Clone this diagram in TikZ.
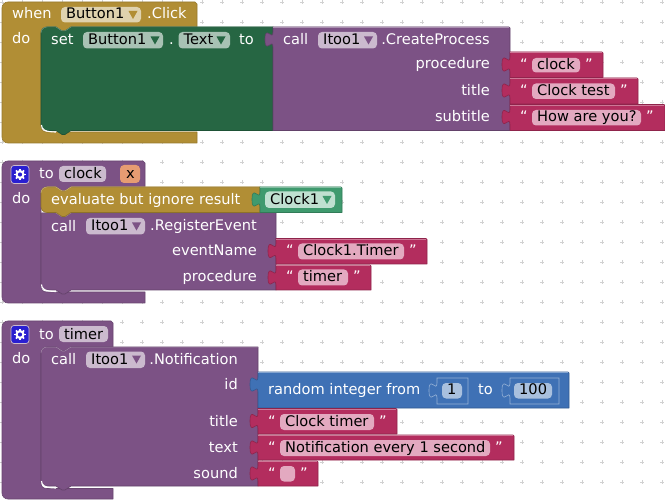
\documentclass[tikz,border=0pt]{standalone}
\usepackage{fontspec}
\setmainfont{DejaVu Sans}
\definecolor{gold}{HTML}{B18E35}
\definecolor{dgreen}{HTML}{266643}
\definecolor{purp}{HTML}{7C5285}
\definecolor{pinkb}{HTML}{B32D5E}
\definecolor{blueb}{HTML}{3F71B5}
\definecolor{mint}{HTML}{3F9A6E}
\definecolor{fgold}{HTML}{DFD2AE}
\definecolor{fgreen}{HTML}{A8C2B4}
\definecolor{fpurp}{HTML}{CBBACE}
\definecolor{fpink}{HTML}{E3A9C0}
\definecolor{fblue}{HTML}{A9C0DE}
\definecolor{fmint}{HTML}{BFE0D0}
\definecolor{fx}{HTML}{E69C72}
\definecolor{gearb}{HTML}{2A1FD0}
\newcounter{nn}
\newcommand{\fsz}{\fontsize{14.6}{16}\selectfont}
\tikzset{
  lbl/.style={text=white,inner sep=0pt,font=\fsz},
  fieldtxt/.style={text=black,inner sep=0pt,font=\fsz},
  blk/.style={line width=0.6pt,line join=round},
}
% left tab of a value block, drawn upward from (x,y+20) to (x,y+5)
\newcommand{\tabup}[2]{(#1,#2+20) .. controls (#1,#2+10) and (#1-8,#2+28) .. (#1-8,#2+12.5) .. controls (#1-8,#2-3) and (#1,#2+15) .. (#1,#2+5)}
% \valb{colour}{x1}{y1}{x2}{y2}
\newcommand{\valb}[5]{%
  \draw[blk,fill=#1,draw=#1!80!black] (#2,#3) -- (#4-1,#3) -- (#4,#3+1) -- (#4,#5) -- (#2,#5) -- \tabup{#2}{#3} -- cycle;
  \draw[line width=0.5pt,#1!65!white] (#2,#3+0.3) -- (#4-1,#3+0.3);}
% statement block: \stmt{colour}{x1}{y1}{x2}{y2}{top radius}
\newcommand{\stmt}[6]{%
  \draw[blk,fill=#1,draw=#1!80!black] (#2,#3+#6) .. controls (#2,#3+#6*0.45) and (#2+#6*0.45,#3) .. (#2+#6,#3) -- (#2+15,#3) -- (#2+21,#3+4) -- (#2+24,#3+4) -- (#2+30,#3) -- (#4,#3) -- (#4,#5) -- (#2+30,#5) -- (#2+24,#5+4) -- (#2+21,#5+4) -- (#2+15,#5) -- (#2+6,#5) .. controls (#2+2.7,#5) and (#2,#5-2.7) .. (#2,#5-6) -- cycle;
  \draw[line width=0.5pt,#1!65!white] (#2,#3+#6) .. controls (#2,#3+#6*0.45) and (#2+#6*0.45,#3) .. (#2+#6,#3) -- (#2+15,#3) -- (#2+21,#3+4) -- (#2+24,#3+4) -- (#2+30,#3) -- (#4,#3);}
% C-shaped block: \cblk{colour}{x1}{y1}{x2}{ymid}{ylow}{ybot}
\newcommand{\cblk}[7]{%
  \draw[blk,fill=#1,draw=#1!85!black] (#2,#3+6) .. controls (#2,#3+2.7) and (#2+2.7,#3) .. (#2+6,#3) -- (#4-2,#3) -- (#4,#3+2) -- (#4,#5) -- (71,#5) -- (65,#5+4) -- (62,#5+4) -- (56,#5) -- (47,#5) .. controls (43,#5) and (41,#5+2) .. (41,#5+6) -- (41,#6-6) .. controls (41,#6-2) and (43,#6) .. (47,#6) -- (#4,#6) -- (#4,#7) -- (#2+6,#7) .. controls (#2+2.7,#7) and (#2,#7-2.7) .. (#2,#7-6) -- cycle;}
% inner corner highlight: \hilite{ylow}
\newcommand{\hilite}[1]{\draw[white,line width=1.1pt] (41.5,#1-7) .. controls (41.5,#1-2.5) and (45,#1) .. (56,#1);}
% \txt{x}{baseline}{anchor}{text}
\newcommand{\txt}[4]{\stepcounter{nn}\node[lbl,anchor=base #3] (t\thenn) at (#1,#2) {#4};}
% \field{colour}{x1}{y1}{x2}{y2}{base}{text}
\newcommand{\field}[7]{\stepcounter{nn}\fill[#1,rounded corners=4pt] (#2,#3) rectangle (#4,#5);
  \node[fieldtxt,anchor=base west] (f\thenn) at (#2+5,#6) {#7};}
% dropdown triangle \tri{colour}{cx}{cy}
\newcommand{\tri}[3]{\fill[#1] (#2-4.5,#3-4) -- (#2+4.5,#3-4) -- (#2,#3+4) -- cycle;}
% gear icon at centre
\newcommand{\gear}[2]{%
  \draw[fill=gearb,draw=fpurp,line width=0.7pt,rounded corners=3pt] (#1-9,#2-9) rectangle (#1+9,#2+9);
  \foreach \a in {0,45,...,315} {\draw[white,line width=1.7pt] (#1,#2) -- ++(\a:5.8pt);}
  \fill[white] (#1,#2) circle[radius=4.6pt];
  \fill[gearb] (#1,#2) circle[radius=2.1pt];}
\begin{document}
\begin{tikzpicture}[x=1pt,y=-1pt]
\useasboundingbox (0,0) rectangle (665,500);
\fill[white] (0,0) rectangle (665,500);
% workspace grid
\foreach \gx in {2,22,...,662} \foreach \gy in {2,22,...,482}
  {\draw[black!18,line width=0.7pt] (\gx-2,\gy) -- (\gx+2,\gy) (\gx,\gy-2) -- (\gx,\gy+2);}

%%% Block 1
\cblk{gold}{2}{2}{197}{27}{132}{143}
\stmt{dgreen}{41}{27}{273}{130.5}{6}
\hilite{132}
\txt{12}{19}{west}{when}
\field{fgold}{61}{7}{141}{22.5}{19}{Button1}
\tri{gold}{133}{15}
\txt{147}{19}{west}{.Click}
\txt{12}{44}{west}{do}
\txt{51}{45}{west}{set}
\field{fgreen}{83}{32}{163}{48.5}{45}{Button1}
\tri{dgreen}{155}{40.5}
\txt{169}{45}{west}{.}
\field{fgreen}{178.5}{32}{230}{48.5}{45}{Text}
\tri{dgreen}{221}{40.5}
\txt{239}{45}{west}{to}
\valb{purp}{273}{27}{510}{130.5}
\txt{283}{45}{west}{call}
\field{fpurp}{318}{32}{377}{48.5}{45}{Itoo1}
\tri{purp}{368.5}{40.5}
\txt{490}{45}{east}{.CreateProcess}
\txt{490}{69}{east}{procedure}
\txt{490}{95.5}{east}{title}
\txt{490}{121.5}{east}{subtitle}
\valb{pinkb}{510}{52}{603}{77.5}
\valb{pinkb}{510}{78}{638}{104}
\valb{pinkb}{510}{104.5}{665}{130.5}
\txt{520}{70}{west}{“}
\field{fpink}{532}{58}{580}{72.5}{69.5}{clock}
\txt{585}{70}{west}{”}
\txt{520}{96}{west}{“}
\field{fpink}{532}{83.5}{615}{99}{95.5}{Clock test}
\txt{620}{96}{west}{”}
\txt{520}{122}{west}{“}
\field{fpink}{532}{110}{641}{125.5}{122}{How are you?}
\txt{646}{122}{west}{”}

%%% Block 2
\cblk{purp}{2}{161}{145}{187}{292}{303}
\stmt{purp}{41}{213}{276}{290}{0}
\stmt{gold}{41}{187}{260}{212.5}{6}
\hilite{291.5}
\gear{20}{174.5}
\txt{39}{179}{west}{to}
\field{fpurp}{59}{166}{106}{182}{179}{clock}
\fill[fx,rounded corners=4pt] (120,165) rectangle (140,183);
\node[fieldtxt,anchor=base] (xarg) at (130.5,179) {x};
\txt{12}{204}{west}{do}
\txt{51}{205}{west}{evaluate but ignore result}
\valb{mint}{260}{187}{342}{212.5}
\field{fmint}{265}{191.5}{335}{208}{205}{Clock1}
\tri{mint}{327}{200}
\txt{51}{232}{west}{call}
\field{fpurp}{86}{218}{145}{234.5}{231}{Itoo1}
\tri{purp}{136.5}{226.5}
\txt{257}{231}{east}{.RegisterEvent}
\txt{257}{256}{east}{eventName}
\txt{257}{282}{east}{procedure}
\valb{pinkb}{276}{238.5}{427}{264}
\valb{pinkb}{276}{265}{371}{290}
\txt{286}{256}{west}{“}
\field{fpink}{298}{243.5}{404}{259.5}{256}{Clock1.Timer}
\txt{409}{256}{west}{”}
\txt{286}{282}{west}{“}
\field{fpink}{298}{269.5}{348}{285.5}{282}{timer}
\txt{353}{282}{west}{”}

%%% Block 3
\cblk{purp}{2}{321}{113}{347}{488.5}{499}
\stmt{purp}{41}{347}{258}{486}{6}
\hilite{488}
\gear{20}{334.5}
\txt{39}{339}{west}{to}
\field{fpurp}{59}{326}{108}{342}{339}{timer}
\txt{12}{363}{west}{do}
\txt{51}{364}{west}{call}
\field{fpurp}{86}{351.5}{145}{368}{364}{Itoo1}
\tri{purp}{136.5}{359.5}
\txt{238}{364}{east}{.Notification}
\txt{238}{389}{east}{id}
\txt{238}{426}{east}{title}
\txt{238}{452}{east}{text}
\txt{238}{478}{east}{sound}
\valb{blueb}{258}{372}{569}{408}
\txt{268}{394}{west}{random integer from}
\draw[line width=0.6pt,fill=blueb,draw=blueb!55!white] (437,378) -- (468,378) -- (468,404) -- (437,404) -- \tabup{437}{378} -- cycle;
\field{fblue}{442}{383}{462}{398.5}{394}{1}
\txt{478}{394}{west}{to}
\draw[line width=0.6pt,fill=blueb,draw=blueb!55!white] (510,378) -- (559,378) -- (559,404) -- (510,404) -- \tabup{510}{378} -- cycle;
\field{fblue}{514}{383}{552}{398.5}{394}{100}
\valb{pinkb}{258}{408.5}{397}{434}
\valb{pinkb}{258}{435}{514}{460}
\valb{pinkb}{258}{461}{318}{486}
\txt{268}{426}{west}{“}
\field{fpink}{280}{414}{374}{430}{426}{Clock timer}
\txt{379}{426}{west}{”}
\txt{268}{452}{west}{“}
\field{fpink}{280}{440}{490}{456}{452}{Notification every 1 second}
\txt{495}{452}{west}{”}
\txt{268}{478}{west}{“}
\fill[fpink,rounded corners=4pt] (280,466) rectangle (295,481.5);
\txt{300}{478}{west}{”}
\end{tikzpicture}
\end{document}
